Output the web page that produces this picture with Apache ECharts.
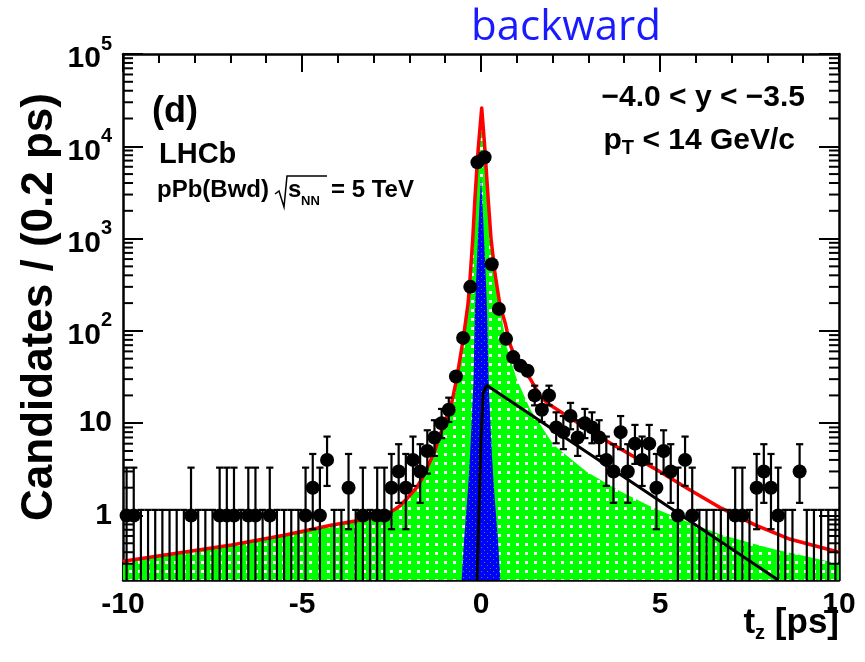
<!DOCTYPE html>
<html>
<head>
<meta charset="utf-8">
<script src="https://cdn.jsdelivr.net/npm/echarts@6/dist/echarts.min.js"></script>
<style>
  html, body { margin: 0; background: #fff; }
  #chart { width: 865px; height: 662px; }
</style>
</head>
<body>
<div id="chart"></div>
<script>
// t_z histogram, 0.2 ps bins from -10 to 10 ps (bin i centred at -9.9 + 0.2 i)
var binLow = -10, binWidth = 0.2;
var counts = [
  1, 1, 0, 0, 0, 0, 0, 0, 0, 1,
  0, 0, 0, 1, 1, 1, 0, 1, 1, 0,
  1, 0, 0, 0, 0, 1, 2, 1, 4, 0,
  0, 2, 0, 1, 0, 1, 1, 2, 3, 2,
  4, 3, 5, 7, 10, 14, 32, 84, 300, 6700,
  7600, 527, 173, 82, 52, 42, 37, 20, 14, 20,
  9, 8, 12, 7, 10, 9, 7, 4, 3, 8,
  3, 6, 4, 6, 2, 5, 3, 1, 4, 1,
  0, 0, 0, 0, 0, 1, 1, 0, 2, 3,
  2, 1, 0, 0, 3, 0, 0, 0, 0, 0
];
// poisson error band drawn for small counts: n -> [low, high]
var errBand = {
  0: [0, 1.15], 1: [0.17, 3.30], 2: [0.71, 4.64], 3: [1.37, 5.92], 4: [2.09, 7.16],
  5: [2.84, 8.38], 6: [3.62, 9.58], 7: [4.42, 10.77], 8: [5.23, 11.95], 9: [6.06, 13.11],
  10: [6.89, 14.27], 12: [8.6, 16.6], 14: [10.3, 18.9], 20: [15.6, 25.5]
};

// fit components: [t, candidates]
var totalFit = [
  [-10, 0.32], [-8.5, 0.39], [-6.97, 0.48], [-5.5, 0.61], [-4.16, 0.79], [-3.3, 0.9],
  [-2.75, 1.0], [-2.5, 1.1], [-2.28, 1.26], [-2.05, 1.55], [-1.8, 2.0], [-1.65, 2.5],
  [-1.5, 3.3], [-1.3, 4.9], [-1.15, 7.4], [-0.97, 11.2], [-0.83, 16], [-0.68, 30],
  [-0.5, 80], [-0.36, 200], [-0.3, 400], [-0.23, 1000], [-0.17, 2700], [-0.08, 9200],
  [0.02, 26000], [0.11, 9200], [0.2, 2700], [0.28, 1000], [0.39, 420], [0.53, 190],
  [0.68, 120], [0.81, 72], [0.95, 52], [1.1, 42], [1.38, 30], [1.66, 19.5],
  [1.9, 16], [2.2, 13.5], [2.55, 11], [2.96, 8.7], [3.4, 6.8], [3.9, 5.25],
  [4.84, 3.24], [5.78, 1.95], [6.71, 1.2], [7.65, 0.79], [8.59, 0.56], [10, 0.40]
];
var bkgFit = [
  [-10, 0.31], [-6.97, 0.47], [-4.16, 0.78], [-3.3, 0.88], [-2.75, 0.98], [-2.5, 1.08],
  [-2.28, 1.22], [-2.05, 1.5], [-1.8, 1.9], [-1.65, 2.4], [-1.5, 3.2], [-1.3, 4.7],
  [-1.15, 7.0], [-0.97, 10.6], [-0.83, 15], [-0.68, 28], [-0.5, 75], [-0.36, 185],
  [-0.3, 370], [-0.23, 900], [-0.17, 2500], [-0.08, 8000], [0.02, 20000], [0.11, 8000],
  [0.2, 2500], [0.28, 900], [0.39, 400], [0.53, 180], [0.72, 66], [1.0, 30],
  [1.38, 14], [2.03, 5.8], [2.96, 2.95], [3.9, 1.82], [4.84, 1.2], [5.78, 0.85],
  [6.71, 0.62], [8.1, 0.44], [10, 0.30]
];
var promptFit = [
  [-0.54, 0.2], [-0.48, 0.5], [-0.42, 1], [-0.36, 2], [-0.31, 4.2], [-0.21, 28],
  [-0.17, 160], [-0.12, 500], [-0.05, 2000], [0, 4700], [0.05, 2000], [0.12, 500],
  [0.17, 160], [0.21, 28], [0.31, 4.2], [0.36, 2], [0.42, 1], [0.48, 0.5], [0.54, 0.2]
];
var fromBFit = [[-0.11, 0.2], [0, 6.8], [0.06, 21], [0.16, 25.7], [8.3, 0.2]];

var yMin = 0.2, yMax = 1e5;
var axisFont = '"Liberation Sans", Arial, sans-serif';

var points = [], bars = [];
counts.forEach(function (n, i) {
  var t = +(binLow + binWidth * (i + 0.5)).toFixed(2);
  if (n > 0) points.push([t, n]);
  if (errBand[n]) bars.push([t, errBand[n][0], errBand[n][1]]);
});

var minorVals = [];
for (var e = -1; e < 5; e++) {
  for (var k = 2; k <= 9; k++) {
    var v = k * Math.pow(10, e);
    if (v > yMin && v < yMax) minorVals.push([-10, v]);
  }
}

function pattern(bg, fg, size, dots) {
  var c = document.createElement('canvas');
  c.width = c.height = size;
  var g = c.getContext('2d');
  g.fillStyle = bg;
  g.fillRect(0, 0, size, size);
  g.fillStyle = fg;
  dots.forEach(function (d) { g.fillRect(d[0], d[1], d[2], d[2]); });
  return { image: c, repeat: 'repeat' };
}
var greenFill = pattern('#00ff00', '#ffffff', 9, [[3, 3, 3]]);
var blueFill = pattern('#0000ff', '#2fa02f', 6, [[1, 1, 1], [4, 4, 1]]);

var dom = document.getElementById('chart');
var myChart = echarts.init(dom, null, { renderer: 'canvas' });

var xAxisBase = {
  type: 'value', min: -10, max: 10, interval: 5,
  axisLine: { onZero: false, lineStyle: { color: '#000', width: 2.5 } },
  axisTick: { inside: true, length: 18, lineStyle: { color: '#000', width: 2 } },
  minorTick: { show: true, splitNumber: 5, length: 9, lineStyle: { color: '#000', width: 2 } },
  splitLine: { show: false }
};
var yAxisBase = {
  type: 'log', logBase: 10, min: yMin, max: yMax, splitNumber: 6,
  axisLine: { onZero: false, lineStyle: { color: '#000', width: 2.5 } },
  axisTick: { inside: true, length: 20, lineStyle: { color: '#000', width: 2 } },
  splitLine: { show: false }
};

var option = {
  animation: false,
  grid: { left: 123, right: 26, top: 54, bottom: 82 },
  xAxis: [
    Object.assign({}, xAxisBase, {
      position: 'bottom',
      axisLabel: {
        color: '#000', fontFamily: axisFont, fontWeight: 'bold', fontSize: 30, margin: 10,
        formatter: function (v) { return String(v); }
      }
    }),
    Object.assign({}, xAxisBase, { position: 'top', axisLabel: { show: false } })
  ],
  yAxis: [
    Object.assign({}, yAxisBase, {
      position: 'left',
      axisLabel: {
        margin: 11,
        formatter: function (v) {
          var ex = Math.round(Math.log10(v));
          if (Math.abs(v - Math.pow(10, ex)) > 1e-6 * v) return '';
          if (ex === 0) return '{n|1}';
          if (ex === 1) return '{n|10}';
          return '{b|10}{s|' + ex + '}';
        },
        rich: {
          n: { color: '#000', fontFamily: axisFont, fontWeight: 'bold', fontSize: 30, lineHeight: 32 },
          b: { color: '#000', fontFamily: axisFont, fontWeight: 'bold', fontSize: 30, lineHeight: 30, verticalAlign: 'bottom' },
          s: { color: '#000', fontFamily: axisFont, fontWeight: 'bold', fontSize: 20, lineHeight: 40, verticalAlign: 'top' }
        }
      }
    }),
    Object.assign({}, yAxisBase, { position: 'right', axisLabel: { show: false } })
  ],
  series: [
    {
      name: 'background', type: 'line', data: bkgFit, showSymbol: false, z: 1,
      lineStyle: { width: 0 }, areaStyle: { color: greenFill, opacity: 1, origin: 'start' }
    },
    {
      name: 'prompt', type: 'line', data: promptFit, showSymbol: false, z: 2,
      lineStyle: { width: 0 }, areaStyle: { color: blueFill, opacity: 1, origin: 'start' }
    },
    {
      name: 'from b', type: 'line', data: fromBFit, showSymbol: false, z: 3,
      lineStyle: { color: '#000', width: 3 }
    },
    {
      name: 'total', type: 'line', data: totalFit, showSymbol: false, z: 4,
      lineStyle: { color: '#ff0000', width: 3.5, join: 'round' }
    },
    {
      name: 'errors', type: 'custom', data: bars, z: 5,
      renderItem: function (params, api) {
        var x = api.value(0);
        var lo = Math.max(api.value(1), yMin);
        var pLo = api.coord([x, lo]), pHi = api.coord([x, api.value(2)]);
        var st = { stroke: '#000', lineWidth: 2.2 };
        var kids = [
          { type: 'line', shape: { x1: pLo[0], y1: pLo[1], x2: pHi[0], y2: pHi[1] }, style: st },
          { type: 'line', shape: { x1: pHi[0] - 3.6, y1: pHi[1], x2: pHi[0] + 3.6, y2: pHi[1] }, style: st }
        ];
        if (api.value(1) > yMin) {
          kids.push({ type: 'line', shape: { x1: pLo[0] - 3.6, y1: pLo[1], x2: pLo[0] + 3.6, y2: pLo[1] }, style: st });
        }
        return { type: 'group', children: kids };
      }
    },
    {
      name: 'data', type: 'scatter', data: points, z: 6,
      symbol: 'circle', symbolSize: 14, itemStyle: { color: '#000', opacity: 1 }
    },
    {
      name: 'minor ticks', type: 'custom', data: minorVals, z: 7, silent: true,
      renderItem: function (params, api) {
        var v = api.value(1);
        var l = api.coord([-10, v]), r = api.coord([10, v]);
        var st = { stroke: '#000', lineWidth: 2 };
        return {
          type: 'group', children: [
            { type: 'line', shape: { x1: l[0], y1: l[1], x2: l[0] + 10, y2: l[1] }, style: st },
            { type: 'line', shape: { x1: r[0] - 10, y1: r[1], x2: r[0], y2: r[1] }, style: st }
          ]
        };
      }
    }
  ],
  graphic: [
    {
      type: 'text', x: 566, y: 28,
      style: { text: 'backward', fill: '#1a1aff', font: '42px "Open Sans", sans-serif', align: 'center', verticalAlign: 'middle' }
    },
    {
      type: 'text', rotation: Math.PI / 2, x: 40, y: 307,
      style: { text: 'Candidates / (0.2 ps)', fill: '#000', font: 'bold 44px ' + axisFont, align: 'center', verticalAlign: 'middle' }
    },
    {
      type: 'text', right: 26, top: 606,
      style: {
        text: '{m|t}{sub|z}{m| [ps]}', fill: '#000',
        rich: {
          m: { fontFamily: axisFont, fontWeight: 'bold', fontSize: 35, lineHeight: 40 },
          sub: { fontFamily: axisFont, fontWeight: 'bold', fontSize: 20, verticalAlign: 'bottom', lineHeight: 22 }
        }
      }
    },
    {
      type: 'text', left: 152, top: 94,
      style: { text: '(d)', fill: '#000', font: 'bold 36px ' + axisFont }
    },
    {
      type: 'text', left: 159, top: 140,
      style: { text: 'LHCb', fill: '#000', font: 'bold 29px ' + axisFont }
    },
    {
      type: 'text', left: 157, top: 178,
      style: { text: 'pPb(Bwd)', fill: '#000', font: 'bold 24px ' + axisFont }
    },
    {
      type: 'polyline', silent: true,
      shape: { points: [[275, 194], [279, 191], [284, 207], [287, 176], [327, 176]] },
      style: { stroke: '#000', lineWidth: 1.5, fill: null }
    },
    {
      type: 'text', left: 288, top: 178,
      style: { text: 's', fill: '#000', font: 'bold 24px ' + axisFont }
    },
    {
      type: 'text', left: 301, top: 195,
      style: { text: 'NN', fill: '#000', font: 'bold 13px ' + axisFont }
    },
    {
      type: 'text', left: 331, top: 178,
      style: { text: '= 5 TeV', fill: '#000', font: 'bold 24px ' + axisFont }
    },
    {
      type: 'text', right: 60, top: 83,
      style: { text: '\u22124.0 < y < \u22123.5', fill: '#000', font: 'bold 30px ' + axisFont }
    },
    {
      type: 'text', right: 70, top: 126,
      style: {
        text: '{m|p}{sub|T}{m| < 14 GeV/c}', fill: '#000',
        rich: {
          m: { fontFamily: axisFont, fontWeight: 'bold', fontSize: 30, lineHeight: 34 },
          sub: { fontFamily: axisFont, fontWeight: 'bold', fontSize: 20, verticalAlign: 'bottom', lineHeight: 22 }
        }
      }
    }
  ]
};

if (option && typeof option === 'object') {
  myChart.setOption(option);
}

window.addEventListener('resize', myChart.resize);
</script>
</body>
</html>
